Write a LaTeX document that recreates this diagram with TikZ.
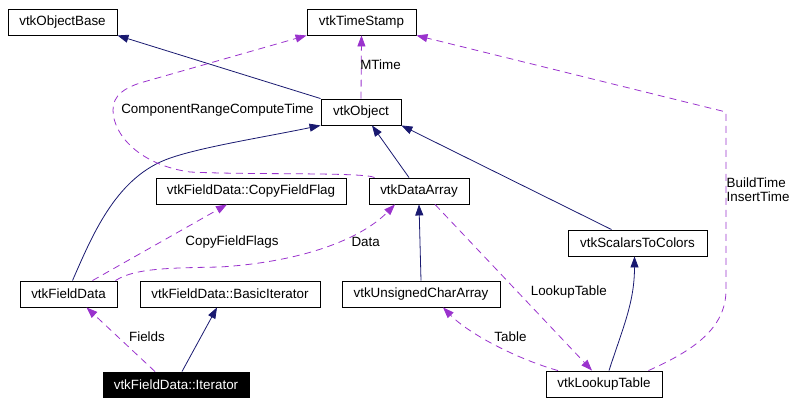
\documentclass[tikz,border=0pt]{standalone}
\usepackage{fontspec}
\setmainfont{Liberation Sans}
\usetikzlibrary{arrows.meta}
\definecolor{inhblue}{HTML}{191970}
\definecolor{usepurple}{HTML}{9A32CD}
\begin{document}
\begin{tikzpicture}[x=1pt,y=-1pt,
		font=\fontsize{13.4}{14}\selectfont,
		cls/.style={draw,line width=0.9pt,inner sep=0pt,minimum height=26pt},
		inh/.style={draw=inhblue,line width=0.8pt,-{Triangle[length=11pt,width=8pt]}},
		use/.style={draw=usepurple,line width=0.8pt,dash pattern=on 7pt off 5pt,-{Triangle[length=11pt,width=8pt]}},
		lbl/.style={inner sep=0.5pt}]
		%\draw [help lines,step=20pt] (0,0) grid (798,404);
		\useasboundingbox (0,0) rectangle (798,404);
		\node[cls,minimum width=109pt] (objbase) at (62.5,22) {vtkObjectBase};
		\node[cls,minimum width=109pt] (timestamp) at (361.5,22) {vtkTimeStamp};
		\node[cls,minimum width=80pt] (object) at (361,112) {vtkObject};
		\node[cls,minimum width=190pt] (copyflag) at (251,191) {vtkFieldData::CopyFieldFlag};
		\node[cls,minimum width=100pt] (dataarray) at (419,191) {vtkDataArray};
		\node[cls,minimum width=139pt] (scalars) at (637.5,243) {vtkScalarsToColors};
		\node[cls,minimum width=97pt] (fielddata) at (68.5,294) {vtkFieldData};
		\node[cls,minimum width=180pt] (basiciter) at (230,294) {vtkFieldData::BasicIterator};
		\node[cls,minimum width=158pt] (uchar) at (421,294) {vtkUnsignedCharArray};
		\node[cls,fill=black,text=white,minimum width=146pt,minimum height=25pt] (iter) at (176,384.5) {vtkFieldData::Iterator};
		\node[cls,minimum width=116pt] (lookup) at (604,384) {vtkLookupTable};

		\draw[inh] (object.north west) -- (objbase.south east);
		\draw[inh] ([xshift=-10pt]dataarray.north) -- ([xshift=11pt]object.south);
		\draw[inh] ([xshift=-26pt]scalars.north) -- (object.south east);
		\draw[inh] ([xshift=4pt]fielddata.north) .. controls (92,236) and (115,180) .. (165,160) .. controls (195,148) and (260,138) .. (object.south west);
		\draw[inh] (uchar.north) -- (dataarray.south);
		\draw[inh] ([xshift=5pt]lookup.north) to[out=72,in=-90] ([xshift=-3pt]scalars.south);
		\draw[inh] ([xshift=6pt]iter.north) -- ([xshift=-13pt]basiciter.south);

		\draw[use] (object.north) -- (timestamp.south);
		\node[lbl] (mtime) at (380.5,65) {MTime};
		\draw[use] ([xshift=6pt]dataarray.north west) .. controls (365,172) and (250,175) .. (190,172) .. controls (140,165) and (113,135) .. (113,110) .. controls (113,95) and (125,88) .. (140,83) -- (timestamp.south west);
		\node[lbl] (crtime) at (217.5,110) {ComponentRangeComputeTime};
		\draw[use] ([xshift=-14pt]lookup.north east) .. controls (690,352) and (726,330) .. (726,290) -- (726,112) -- (timestamp.south east);
		\node[lbl,anchor=west,align=left] (btime) at (726,190) {BuildTime\\InsertTime};
		\draw[use] ([xshift=24pt]fielddata.north) -- ([xshift=-24pt]copyflag.south);
		\node[lbl] (cflags) at (232,242) {CopyFieldFlags};
		\draw[use] ([xshift=-2pt]fielddata.north east) .. controls (135,268) and (170,268) .. (220,267) .. controls (300,262) and (360,240) .. ([xshift=-24pt]dataarray.south);
		\node[lbl] (data) at (365.7,242) {Data};
		\draw[use] ([xshift=16pt]dataarray.south) -- ([xshift=-12pt]lookup.north);
		\node[lbl] (ltable) at (568.8,292) {LookupTable};
		\draw[use] ([xshift=-46pt]lookup.north) .. controls (520,360) and (470,335) .. ([xshift=22pt]uchar.south);
		\node[lbl] (table) at (510.5,337) {Table};
		\draw[use] ([xshift=-21pt]iter.north) -- ([xshift=18pt]fielddata.south);
		\node[lbl] (fields) at (147,337) {Fields};
	\end{tikzpicture}
\end{document}
